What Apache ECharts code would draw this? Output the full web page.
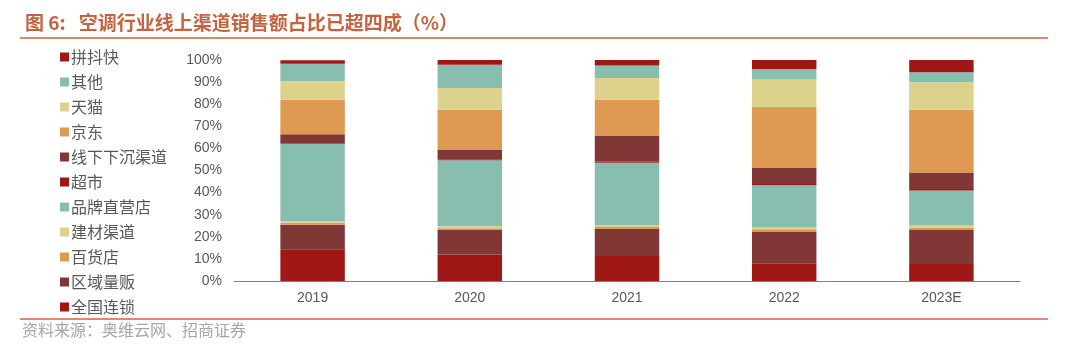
<!DOCTYPE html>
<html>
<head>
    <meta charset="utf-8">
    <title>空调行业线上渠道销售额占比</title>
    <script src="https://cdn.jsdelivr.net/npm/echarts@6/dist/echarts.min.js"></script>
    <style>
        html, body { margin: 0; padding: 0; background: #fff; }
        #canvasDiv { width: 1080px; height: 352px; }
    </style>
</head>
<body>
    <div id="canvasDiv"></div>
    <script>
        // 年份
        var years = ['2019', '2020', '2021', '2022', '2023E'];
        // 各渠道占比(%),从下往上堆叠
        var quanguo = [14.4, 12.0, 11.3, 8.0, 7.7];      // 全国连锁
        var quyu = [11.1, 11.1, 12.2, 14.4, 15.6];       // 区域量贩
        var baihuo = [0.9, 0.75, 0.9, 1.05, 0.9];        // 百货店
        var jiancai = [0.75, 0.9, 0.9, 0.75, 0.9];       // 建材渠道
        var pinpai = [34.8, 29.9, 28.2, 19.1, 15.8];     // 品牌直营店
        var chaoshi = [0.3, 0.45, 0.6, 0.6, 0.75];       // 超市
        var xiachen = [4.2, 4.2, 11.7, 7.5, 7.4];        // 线下下沉渠道
        var jingdong = [15.6, 18.2, 16.2, 27.5, 28.4];   // 京东
        var tianmao = [8.4, 9.8, 9.9, 12.5, 12.5];       // 天猫
        var qita = [7.8, 10.5, 5.6, 4.5, 4.5];           // 其他
        var pindoukuai = [1.65, 2.25, 2.55, 4.2, 5.7];   // 拼抖快

        var RED = '#A01816', BROWN = '#813736', ORANGE = '#DE9A53', YELLOW = '#DDD28C', TEAL = '#88BEB0';

        var seriesDef = [
            ['全国连锁', quanguo, RED],
            ['区域量贩', quyu, BROWN],
            ['百货店', baihuo, ORANGE],
            ['建材渠道', jiancai, YELLOW],
            ['品牌直营店', pinpai, TEAL],
            ['超市', chaoshi, RED],
            ['线下下沉渠道', xiachen, BROWN],
            ['京东', jingdong, ORANGE],
            ['天猫', tianmao, YELLOW],
            ['其他', qita, TEAL],
            ['拼抖快', pindoukuai, RED]
        ];

        var series = [], legendData = [];
        for (var i = 0; i < seriesDef.length; i++) {
            series.push({
                name: seriesDef[i][0],
                type: 'bar',
                stack: 'total',
                barWidth: '41%',
                itemStyle: { color: seriesDef[i][2] },
                data: seriesDef[i][1]
            });
            legendData.unshift(seriesDef[i][0]);
        }

        var NUM_FONT = '"Liberation Sans", Arial, sans-serif';

        var myChart = echarts.init(document.getElementById('canvasDiv'));
        var option = {
            animation: false,
            textStyle: { fontFamily: '"Noto Sans CJK SC", "Liberation Sans", sans-serif' },
            title: {
                text: '图 6:   空调行业线上渠道销售额占比已超四成（%）',
                left: 20,
                top: 8,
                textStyle: { color: '#C4633F', fontSize: 19, fontWeight: 'bold' }
            },
            graphic: [
                { type: 'rect', shape: { x: 20, y: 37, width: 1028, height: 2 }, style: { fill: '#D88D72' } },
                { type: 'rect', shape: { x: 20, y: 318, width: 1028, height: 2 }, style: { fill: '#D88D72' } },
                {
                    type: 'text', left: 22, top: 322,
                    style: { text: '资料来源：奥维云网、招商证券', fill: '#A6A6A6', fontSize: 16, fontFamily: '"Noto Sans CJK SC", sans-serif' }
                }
            ],
            legend: {
                orient: 'vertical',
                left: 55,
                top: 44,
                data: legendData,
                icon: 'rect',
                itemWidth: 9,
                itemHeight: 9,
                itemGap: 9,
                textStyle: { fontSize: 16, color: '#595959', lineHeight: 16, padding: [0, 0, 0, -3] }
            },
            grid: { left: 234, right: 60, top: 60, bottom: 71 },
            xAxis: {
                type: 'category',
                data: years,
                axisLine: { lineStyle: { color: '#7F7F7F' } },
                axisTick: { inside: true, length: 4, lineStyle: { color: '#7F7F7F' } },
                axisLabel: { color: '#595959', fontSize: 14, margin: 10, fontFamily: NUM_FONT }
            },
            yAxis: {
                type: 'value',
                min: 0,
                max: 100,
                interval: 10,
                splitLine: { show: false },
                axisLine: { show: false },
                axisTick: { show: false },
                axisLabel: { formatter: '{value}%', color: '#595959', fontSize: 14, margin: 12, fontFamily: NUM_FONT }
            },
            series: series
        };
        myChart.setOption(option);
    </script>
</body>
</html>
